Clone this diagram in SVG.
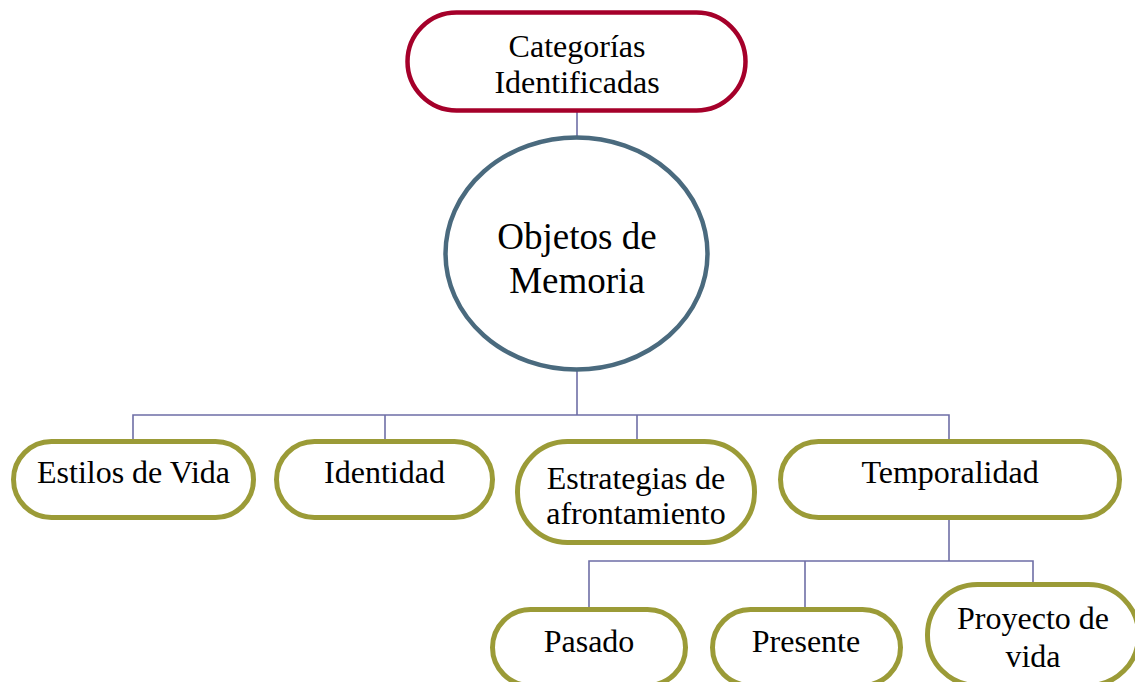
<svg xmlns="http://www.w3.org/2000/svg" width="1135" height="682" viewBox="0 0 1135 682">
<style>
.bg{fill:#ffffff}
.olive{fill:#ffffff;stroke:#9B9B37;stroke-width:5}
.red{fill:#ffffff;stroke:#A5002A;stroke-width:4.5}
.blue{fill:#ffffff;stroke:#4A6A7E;stroke-width:4.5}
.conn{fill:none;stroke:#6E6EA6;stroke-width:1.6}
text{font-family:"Liberation Serif","Times New Roman",serif;font-size:32px;fill:#000000;text-anchor:middle}
.big{font-size:37px}
</style>
<rect class="bg" x="0" y="0" width="1135" height="682"/>
<g id="connectors">
<path class="conn" d="M577,112 V136"/>
<path class="conn" d="M577,371 V415"/>
<path class="conn" d="M133,439 V415 H949 V439"/>
<path class="conn" d="M385,415 V439"/>
<path class="conn" d="M637,415 V439"/>
<path class="conn" d="M949,520 V561"/>
<path class="conn" d="M589,607 V561 H1033 V582"/>
<path class="conn" d="M805,561 V607"/>
</g>
<g id="categorias">
<rect class="red" x="407.5" y="12.5" width="338" height="98" rx="49"/>
<text x="577" y="57">Categorías</text>
<text x="577" y="93">Identificadas</text>
</g>
<g id="objetos">
<ellipse class="blue" cx="576.5" cy="253.5" rx="131" ry="116"/>
<text class="big" x="577" y="249">Objetos de</text>
<text class="big" x="577" y="293">Memoria</text>
</g>
<g id="estilos">
<rect class="olive" x="13.5" y="441.5" width="240" height="76" rx="38"/>
<text x="133.5" y="483">Estilos de Vida</text>
</g>
<g id="identidad">
<rect class="olive" x="276.5" y="441.5" width="216" height="76" rx="38"/>
<text x="384.5" y="483">Identidad</text>
</g>
<g id="estrategias">
<rect class="olive" x="517.5" y="441.5" width="237" height="101" rx="50"/>
<text x="636" y="489">Estrategias de</text>
<text x="636" y="524">afrontamiento</text>
</g>
<g id="temporalidad">
<rect class="olive" x="780.5" y="441.5" width="339" height="76" rx="38"/>
<text x="950" y="483">Temporalidad</text>
</g>
<g id="pasado">
<rect class="olive" x="492.5" y="609.5" width="193" height="76" rx="38"/>
<text x="589" y="652">Pasado</text>
</g>
<g id="presente">
<rect class="olive" x="712.5" y="609.5" width="188" height="76" rx="38"/>
<text x="806" y="652">Presente</text>
</g>
<g id="proyecto">
<rect class="olive" x="927.5" y="584.5" width="211" height="101" rx="50"/>
<text x="1033" y="629">Proyecto de</text>
<text x="1033" y="667">vida</text>
</g>
</svg>
